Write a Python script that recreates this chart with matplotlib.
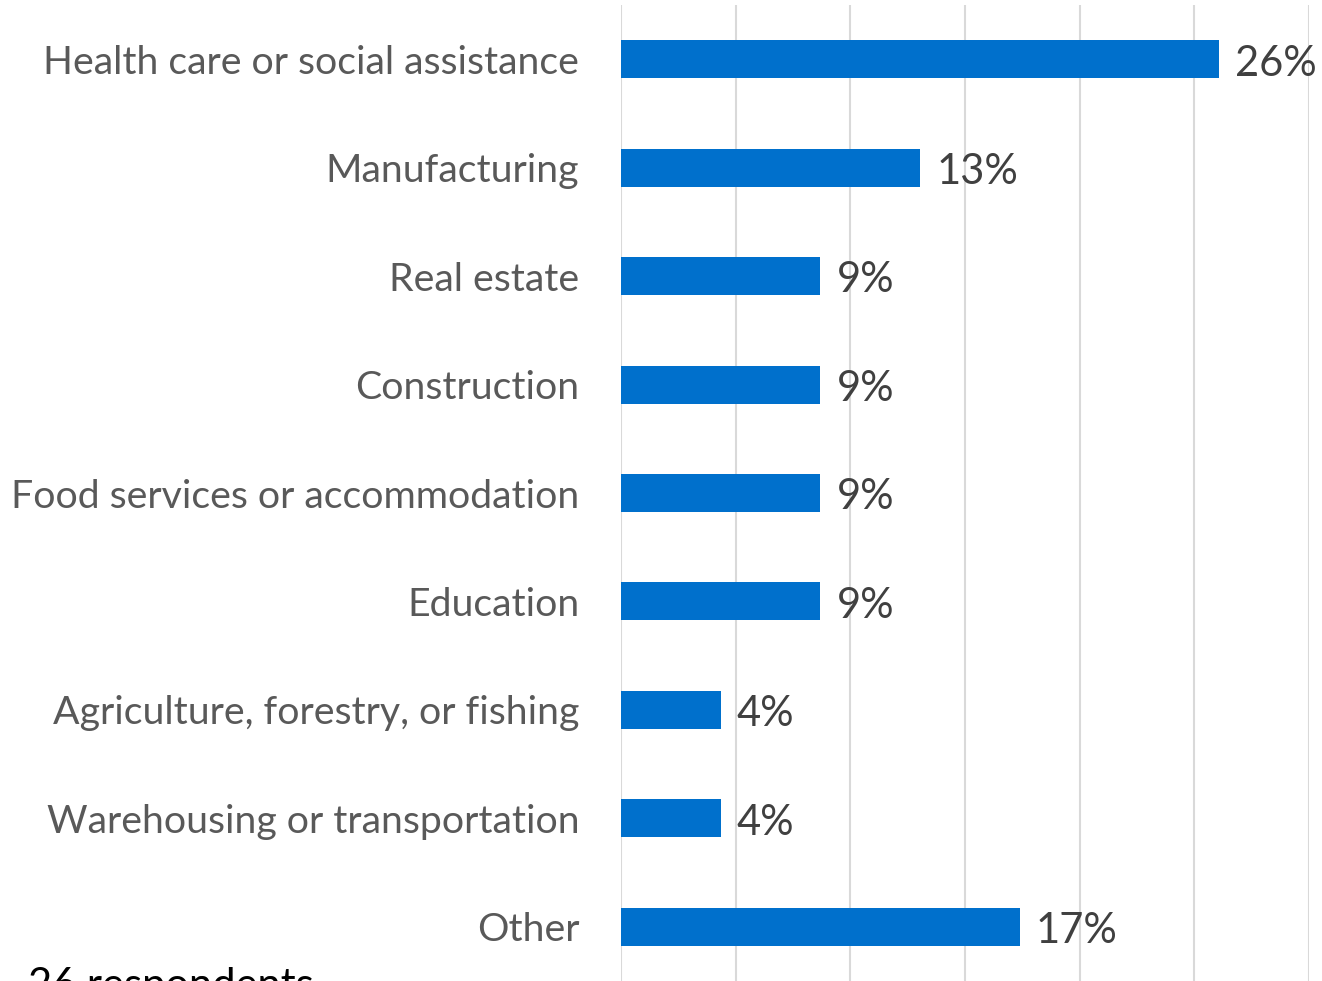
import matplotlib.pyplot as plt
from matplotlib.ticker import MultipleLocator

# Survey: industry of respondents' employers (counts out of the sample)
industries = [
    "Health care or social assistance",
    "Manufacturing",
    "Real estate",
    "Construction",
    "Food services or accommodation",
    "Education",
    "Agriculture, forestry, or fishing",
    "Warehousing or transportation",
    "Other",
]
counts = [6, 3, 2, 2, 2, 2, 1, 1, 4]
total = 23
shares = [100 * c / total for c in counts]

BAR_COL = "#0070CC"
GRID_COL = "#D9D9D9"
FONT = "Lato"

fig = plt.figure(figsize=(13.22, 9.81), dpi=100, facecolor="white")
ax = fig.add_axes([621 / 1322, 0.0, (1309 - 621) / 1322, 976 / 981])

ypos = list(range(len(industries)))
ax.barh(ypos, shares, height=0.35, color=BAR_COL, zorder=3)
ax.set_ylim(len(industries) - 0.5, -0.5)
ax.set_xlim(0, 30)
ax.xaxis.set_major_locator(MultipleLocator(5))
ax.grid(axis="x", color=GRID_COL, linewidth=1.5, zorder=0)
ax.set_xticklabels([])
ax.tick_params(axis="both", length=0)
for s in ax.spines.values():
    s.set_visible(False)

ax.set_yticks(ypos)
ax.set_yticklabels(industries, fontsize=28.3, color="#595959", family=FONT)
ax.tick_params(axis="y", pad=30)

for y, v in zip(ypos, shares):
    ax.text(v + 0.7, y + 0.04, f"{v:.0f}%", va="center", ha="left",
            fontsize=30, color="#404040", family=FONT)

fig.text(28 / 1322, 14 / 981, "26 respondents", ha="left", va="top",
         fontsize=30, color="black", family=FONT)

fig.savefig("out.png", dpi=100, facecolor="white")
